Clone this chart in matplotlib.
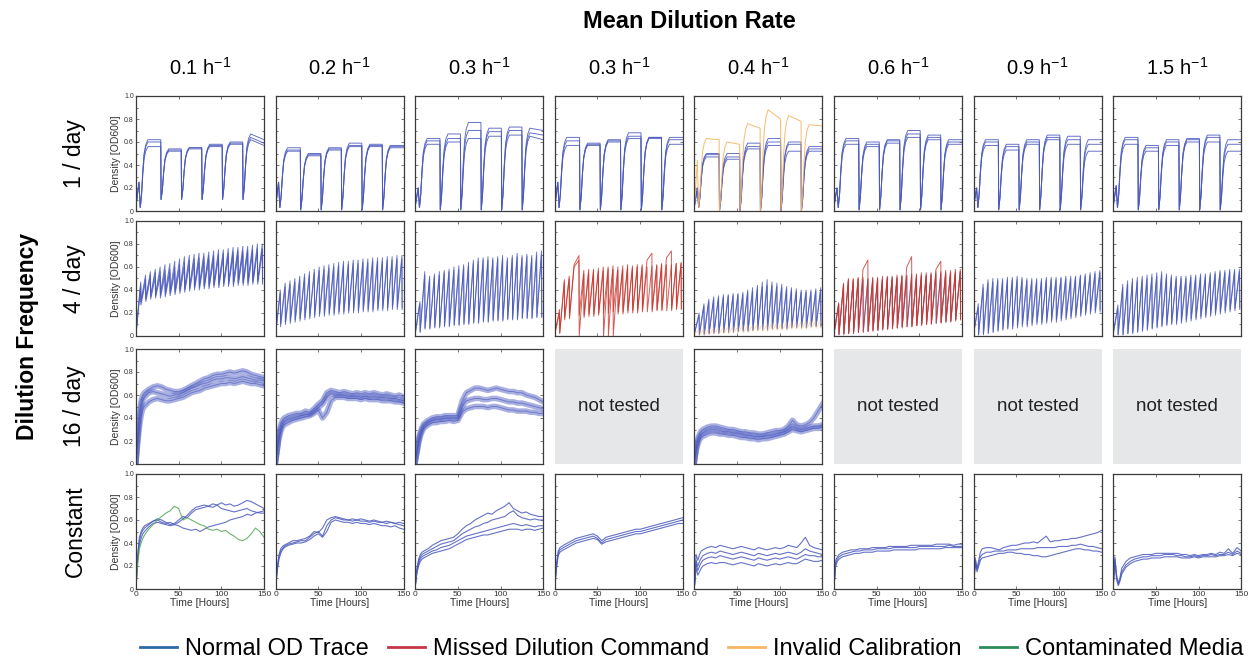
import matplotlib.pyplot as plt
from matplotlib.lines import Line2D
from matplotlib.ticker import MultipleLocator, FuncFormatter

plt.rcParams['font.family'] = ['Liberation Sans', 'DejaVu Sans']
plt.rcParams['mathtext.default'] = 'regular'

# ---------------------------------------------------------------- labels
rates = ['0.1', '0.2', '0.3', '0.3', '0.4', '0.6', '0.9', '1.5']
frequencies = ['1 / day', '4 / day', '16 / day', 'Constant']
legend_labels = ['Normal OD Trace', 'Missed Dilution Command',
                 'Invalid Calibration', 'Contaminated Media']

trace_color = {'n': '#4a59bd', 'm': '#c8352c', 'i': '#f6b35e', 'c': '#56a856'}
legend_color = ['#2d69a8', '#c53548', '#f7b766', '#2b8c57']

# ---------------------------------------------------------------- 1 / day
daily_dilutions = [29, 53, 77, 101, 125]
rise_hours = [0, 1.5, 3, 4.5, 6.5, 9]
rise_frac = [0, 0.2, 0.55, 0.8, 0.93, 1.0]

day_trough = [0.10, 0.01, 0.01, 0.01, 0.0, 0.01, 0.01, 0.01]
day_spike = [0.25, 0.25, 0.20, 0.25, 0.20, 0.20, 0.20, 0.22]

# plateau per cycle (6), optional 7th value = level at 150 h
day_c1 = [[0.62, 0.54, 0.55, 0.58, 0.60, 0.67, 0.62],
          [0.60, 0.53, 0.55, 0.57, 0.59, 0.64, 0.59],
          [0.56, 0.52, 0.54, 0.56, 0.58, 0.62, 0.57]]
day_c2 = [[0.55, 0.50, 0.55, 0.59, 0.58, 0.57],
          [0.53, 0.49, 0.54, 0.57, 0.57, 0.56],
          [0.52, 0.48, 0.53, 0.56, 0.56, 0.55]]
day_c3 = [[0.63, 0.67, 0.77, 0.72, 0.73, 0.72, 0.70],
          [0.61, 0.63, 0.70, 0.69, 0.70, 0.68, 0.66],
          [0.58, 0.60, 0.63, 0.65, 0.66, 0.65, 0.62]]
day_c4 = [[0.64, 0.59, 0.62, 0.68, 0.64, 0.64],
          [0.61, 0.58, 0.61, 0.65, 0.64, 0.62],
          [0.57, 0.57, 0.60, 0.63, 0.63, 0.58]]
day_c5 = [[0.50, 0.50, 0.59, 0.63, 0.60, 0.56],
          [0.49, 0.47, 0.56, 0.60, 0.58, 0.54],
          [0.47, 0.45, 0.54, 0.57, 0.52, 0.52]]
day_c6 = [[0.63, 0.60, 0.62, 0.70, 0.66, 0.62],
          [0.61, 0.58, 0.61, 0.67, 0.64, 0.60],
          [0.58, 0.56, 0.59, 0.64, 0.62, 0.58]]
day_c7 = [[0.62, 0.58, 0.62, 0.66, 0.65, 0.62],
          [0.60, 0.56, 0.60, 0.64, 0.62, 0.58],
          [0.57, 0.53, 0.58, 0.62, 0.58, 0.52]]
day_c8 = [[0.64, 0.57, 0.62, 0.63, 0.66, 0.62],
          [0.62, 0.55, 0.60, 0.62, 0.64, 0.58],
          [0.58, 0.52, 0.57, 0.60, 0.60, 0.52]]
day_panels = [day_c1, day_c2, day_c3, day_c4, day_c5, day_c6, day_c7, day_c8]

# invalid calibration reactor at 0.4 / h
orange_peak = [0.63, 0.60, 0.76, 0.88, 0.83, 0.75]
orange_end = [0.62, 0.58, 0.72, 0.80, 0.78, 0.74]
orange_spike = 0.44

# ---------------------------------------------------------------- 4 / day
dil_4day = [5.5, 11.2, 16.9, 22.6, 28.3, 34.0, 39.7, 45.4, 51.1, 56.8, 62.5, 68.2, 73.9,
            79.6, 85.3, 91.0, 96.7, 102.4, 108.1, 113.8, 119.5, 125.2, 130.9, 136.6, 142.3, 148.0]

four_c1_peaks = [
    [0.47, 0.53, 0.56, 0.58, 0.60, 0.62, 0.63, 0.65, 0.67, 0.69, 0.70, 0.71, 0.72,
     0.72, 0.73, 0.74, 0.75, 0.75, 0.76, 0.77, 0.77, 0.78, 0.78, 0.79, 0.80, 0.80],
    [0.45, 0.50, 0.53, 0.55, 0.56, 0.57, 0.58, 0.60, 0.62, 0.64, 0.66, 0.67, 0.68,
     0.69, 0.70, 0.70, 0.71, 0.72, 0.72, 0.73, 0.74, 0.74, 0.75, 0.75, 0.76, 0.76],
    [0.43, 0.47, 0.50, 0.51, 0.52, 0.53, 0.55, 0.56, 0.58, 0.60, 0.62, 0.63, 0.64,
     0.65, 0.66, 0.67, 0.68, 0.68, 0.69, 0.70, 0.70, 0.71, 0.72, 0.72, 0.73, 0.73]]
four_c1_lows = [
    [0.30, 0.33, 0.35, 0.36, 0.37, 0.38, 0.39, 0.40, 0.41, 0.42, 0.43, 0.43, 0.44,
     0.44, 0.45, 0.45, 0.46, 0.46, 0.46, 0.47, 0.47, 0.47, 0.48, 0.48, 0.48, 0.49],
    [0.29, 0.32, 0.34, 0.35, 0.35, 0.36, 0.37, 0.38, 0.39, 0.40, 0.41, 0.42, 0.42,
     0.43, 0.43, 0.44, 0.44, 0.45, 0.45, 0.45, 0.46, 0.46, 0.46, 0.47, 0.47, 0.47],
    [0.27, 0.30, 0.32, 0.33, 0.33, 0.34, 0.35, 0.36, 0.37, 0.38, 0.39, 0.40, 0.40,
     0.41, 0.41, 0.42, 0.42, 0.43, 0.43, 0.43, 0.44, 0.44, 0.44, 0.45, 0.45, 0.45]]

four_c2_peaks = [
    [0.40, 0.46, 0.48, 0.50, 0.52, 0.54, 0.56, 0.58, 0.60, 0.61, 0.62, 0.63, 0.64,
     0.65, 0.65, 0.66, 0.66, 0.67, 0.67, 0.68, 0.68, 0.68, 0.69, 0.69, 0.70, 0.70],
    [0.38, 0.43, 0.45, 0.47, 0.49, 0.51, 0.53, 0.55, 0.57, 0.58, 0.59, 0.60, 0.61,
     0.62, 0.62, 0.63, 0.63, 0.64, 0.64, 0.65, 0.65, 0.65, 0.66, 0.66, 0.67, 0.67]]
four_c2_lows = [
    [0.10, 0.12, 0.13, 0.14, 0.15, 0.16, 0.17, 0.18, 0.19, 0.19, 0.20, 0.20, 0.21,
     0.21, 0.22, 0.22, 0.22, 0.23, 0.23, 0.23, 0.24, 0.24, 0.24, 0.25, 0.25, 0.25],
    [0.08, 0.10, 0.11, 0.12, 0.13, 0.14, 0.15, 0.16, 0.17, 0.17, 0.18, 0.18, 0.19,
     0.19, 0.20, 0.20, 0.20, 0.21, 0.21, 0.21, 0.22, 0.22, 0.22, 0.23, 0.23, 0.23]]

four_c3_peaks = [
    [0.30, 0.56, 0.52, 0.54, 0.56, 0.57, 0.58, 0.60, 0.61, 0.62, 0.64, 0.66, 0.68,
     0.68, 0.69, 0.68, 0.69, 0.70, 0.68, 0.70, 0.72, 0.70, 0.71, 0.70, 0.73, 0.74],
    [0.28, 0.53, 0.50, 0.52, 0.53, 0.55, 0.56, 0.57, 0.58, 0.60, 0.61, 0.63, 0.65,
     0.66, 0.66, 0.66, 0.67, 0.67, 0.66, 0.68, 0.69, 0.68, 0.69, 0.68, 0.70, 0.71]]
four_c3_lows = [
    [0.04, 0.07, 0.07, 0.08, 0.08, 0.09, 0.09, 0.10, 0.10, 0.11, 0.11, 0.12, 0.12,
     0.13, 0.13, 0.14, 0.14, 0.14, 0.15, 0.15, 0.15, 0.16, 0.16, 0.16, 0.17, 0.17],
    [0.03, 0.06, 0.06, 0.07, 0.07, 0.08, 0.08, 0.09, 0.09, 0.10, 0.10, 0.11, 0.11,
     0.12, 0.12, 0.13, 0.13, 0.13, 0.14, 0.14, 0.14, 0.15, 0.15, 0.15, 0.16, 0.16]]

# None = dilution command missed
four_c4_peaks = [
    [0.23, 0.49, 0.52, 0.62, 0.70, 0.57, 0.58, 0.58, 0.59, 0.60, 0.60, 0.61, 0.60,
     0.61, 0.62, 0.61, 0.62, 0.62, 0.66, 0.72, 0.62, 0.63, 0.68, 0.74, 0.63, 0.64],
    [0.20, 0.47, 0.50, 0.60, 0.66, 0.54, 0.55, 0.56, 0.56, 0.57, 0.58, 0.58, 0.57,
     0.58, 0.59, 0.59, 0.60, 0.60, 0.60, 0.61, 0.61, 0.62, 0.62, 0.62, 0.63, 0.63]]
four_c4_lows = [
    [0.03, 0.16, 0.17, None, 0.18, 0.18, 0.19, 0.19, 0.20, 0.20, 0.20, 0.21, 0.21,
     0.21, 0.22, 0.22, 0.22, 0.23, None, 0.23, 0.23, 0.23, None, 0.24, 0.24, 0.24],
    [0.02, 0.14, 0.15, None, 0.00, 0.16, 0.17, 0.17, 0.18, 0.00, 0.00, 0.00, 0.19,
     0.19, 0.20, 0.20, 0.20, 0.21, 0.21, 0.21, 0.22, 0.22, 0.22, 0.22, 0.23, 0.23]]

four_c5_peaks = [
    [0.20, 0.28, 0.32, 0.34, 0.35, 0.36, 0.36, 0.37, 0.37, 0.38, 0.40, 0.42, 0.44,
     0.47, 0.49, 0.47, 0.46, 0.45, 0.43, 0.42, 0.41, 0.40, 0.40, 0.40, 0.41, 0.42],
    [0.18, 0.26, 0.30, 0.32, 0.33, 0.34, 0.35, 0.35, 0.36, 0.36, 0.38, 0.39, 0.41,
     0.43, 0.44, 0.44, 0.43, 0.42, 0.41, 0.40, 0.39, 0.38, 0.38, 0.38, 0.39, 0.40],
    [0.05, 0.06, 0.06, 0.07, 0.07, 0.07, 0.08, 0.08, 0.08, 0.09, 0.09, 0.09, 0.10,
     0.10, 0.10, 0.11, 0.11, 0.11, 0.12, 0.12, 0.12, 0.12, 0.13, 0.13, 0.13, 0.13]]
four_c5_lows = [
    [0.01, 0.02, 0.02, 0.03, 0.03, 0.03, 0.04, 0.04, 0.04, 0.05, 0.05, 0.05, 0.06,
     0.06, 0.06, 0.07, 0.07, 0.07, 0.07, 0.08, 0.08, 0.08, 0.08, 0.09, 0.09, 0.09],
    [0.01, 0.01, 0.02, 0.02, 0.02, 0.03, 0.03, 0.03, 0.04, 0.04, 0.04, 0.05, 0.05,
     0.05, 0.05, 0.06, 0.06, 0.06, 0.06, 0.07, 0.07, 0.07, 0.07, 0.08, 0.08, 0.08],
    [0.01, 0.01, 0.01, 0.02, 0.02, 0.02, 0.02, 0.03, 0.03, 0.03, 0.03, 0.04, 0.04,
     0.04, 0.04, 0.05, 0.05, 0.05, 0.05, 0.06, 0.06, 0.06, 0.06, 0.07, 0.07, 0.07]]

four_c6_peaks = [
    [0.28, 0.44, 0.48, 0.48, 0.49, 0.49, 0.49, 0.50, 0.50, 0.50, 0.51, 0.51, 0.51,
     0.52, 0.52, 0.52, 0.53, 0.53, 0.53, 0.54, 0.54, 0.54, 0.55, 0.55, 0.56, 0.56],
    [0.27, 0.46, 0.50, 0.50, 0.51, 0.51, 0.50, 0.51, 0.51, 0.52, 0.52, 0.52, 0.53,
     0.53, 0.53, 0.54, 0.54, 0.55, 0.55, 0.55, 0.56, 0.56, 0.57, 0.57, 0.58, 0.58],
    [0.29, 0.45, 0.49, 0.49, 0.50, 0.58, 0.66, 0.48, 0.49, 0.49, 0.50, 0.50, 0.50,
     0.51, 0.60, 0.69, 0.51, 0.52, 0.52, 0.53, 0.58, 0.65, 0.54, 0.55, 0.55, 0.56]]
four_c6_lows = [
    [0.01, 0.02, 0.02, 0.03, 0.03, 0.04, 0.04, 0.05, 0.05, 0.06, 0.06, 0.07, 0.07,
     0.08, 0.08, 0.09, 0.09, 0.10, 0.10, 0.11, 0.11, 0.12, 0.12, 0.13, 0.14, 0.15],
    [0.01, 0.01, 0.02, 0.02, 0.03, 0.03, 0.04, 0.04, 0.05, 0.05, 0.06, 0.06, 0.07,
     0.07, 0.08, 0.08, 0.09, 0.09, 0.10, 0.10, 0.11, 0.11, 0.12, 0.12, 0.13, 0.14],
    [0.02, 0.02, 0.03, 0.03, 0.04, None, 0.04, 0.05, 0.05, 0.06, 0.06, 0.07, 0.07,
     0.08, None, 0.08, 0.09, 0.10, 0.10, 0.11, None, 0.12, 0.13, 0.13, 0.14, 0.15]]

four_c7_peaks = [
    [0.28, 0.45, 0.49, 0.50, 0.50, 0.50, 0.51, 0.51, 0.52, 0.51, 0.50, 0.50, 0.50,
     0.50, 0.51, 0.51, 0.51, 0.51, 0.52, 0.52, 0.52, 0.53, 0.54, 0.55, 0.56, 0.57],
    [0.25, 0.42, 0.46, 0.47, 0.48, 0.48, 0.49, 0.49, 0.49, 0.49, 0.48, 0.48, 0.48,
     0.48, 0.49, 0.49, 0.49, 0.50, 0.50, 0.50, 0.51, 0.52, 0.52, 0.53, 0.54, 0.55]]
four_c7_lows = [
    [0.01, 0.02, 0.03, 0.04, 0.05, 0.06, 0.07, 0.08, 0.09, 0.10, 0.10, 0.11, 0.12,
     0.12, 0.13, 0.14, 0.14, 0.15, 0.16, 0.17, 0.18, 0.19, 0.20, 0.21, 0.22, 0.23],
    [0.01, 0.01, 0.02, 0.03, 0.04, 0.05, 0.06, 0.06, 0.07, 0.08, 0.08, 0.09, 0.10,
     0.10, 0.11, 0.12, 0.12, 0.13, 0.14, 0.15, 0.16, 0.17, 0.18, 0.19, 0.20, 0.21]]

four_c8_peaks = [
    [0.27, 0.45, 0.48, 0.50, 0.51, 0.52, 0.53, 0.54, 0.55, 0.56, 0.54, 0.53, 0.52,
     0.52, 0.52, 0.53, 0.53, 0.54, 0.54, 0.55, 0.56, 0.57, 0.57, 0.58, 0.58, 0.58],
    [0.24, 0.42, 0.45, 0.47, 0.48, 0.49, 0.50, 0.51, 0.52, 0.53, 0.52, 0.51, 0.50,
     0.50, 0.50, 0.51, 0.51, 0.52, 0.52, 0.53, 0.54, 0.55, 0.55, 0.56, 0.56, 0.56]]
four_c8_lows = [
    [0.01, 0.01, 0.02, 0.03, 0.04, 0.05, 0.06, 0.07, 0.08, 0.09, 0.10, 0.11, 0.12,
     0.13, 0.14, 0.15, 0.16, 0.17, 0.18, 0.19, 0.20, 0.21, 0.22, 0.23, 0.24, 0.25],
    [0.01, 0.01, 0.02, 0.02, 0.03, 0.04, 0.05, 0.06, 0.07, 0.08, 0.09, 0.10, 0.10,
     0.11, 0.12, 0.13, 0.14, 0.15, 0.16, 0.17, 0.18, 0.19, 0.20, 0.21, 0.22, 0.23]]

four_peaks = [four_c1_peaks, four_c2_peaks, four_c3_peaks, four_c4_peaks,
              four_c5_peaks, four_c6_peaks, four_c7_peaks, four_c8_peaks]
four_lows = [four_c1_lows, four_c2_lows, four_c3_lows, four_c4_lows,
             four_c5_lows, four_c6_lows, four_c7_lows, four_c8_lows]
four_kinds = [['n', 'n', 'n'], ['n', 'n'], ['n', 'n'], ['m', 'm'],
              ['n', 'n', 'i'], ['n', 'm', 'm'], ['n', 'n'], ['n', 'n']]

# ---------------------------------------------------------------- 16 / day and constant
t_grid = [0, 2, 4, 6, 8, 10,
          15, 20, 25, 30, 35, 40, 45, 50, 55, 60, 65, 70, 75, 80,
          85, 90, 95, 100, 105, 110, 115, 120, 125, 130, 135, 140, 145, 150]

six_c1 = [
    [0.02, 0.25, 0.45, 0.55, 0.60, 0.62,
     0.65, 0.67, 0.68, 0.67, 0.65, 0.64, 0.63, 0.63, 0.64, 0.66, 0.68, 0.70, 0.72, 0.74,
     0.75, 0.77, 0.78, 0.78, 0.79, 0.80, 0.79, 0.80, 0.81, 0.80, 0.78, 0.77, 0.76, 0.75],
    [0.02, 0.22, 0.40, 0.50, 0.56, 0.58,
     0.62, 0.63, 0.62, 0.61, 0.60, 0.59, 0.60, 0.60, 0.62, 0.64, 0.66, 0.67, 0.69, 0.70,
     0.71, 0.73, 0.74, 0.74, 0.75, 0.75, 0.74, 0.75, 0.76, 0.75, 0.74, 0.73, 0.73, 0.72],
    [0.02, 0.18, 0.32, 0.42, 0.48, 0.50,
     0.54, 0.56, 0.57, 0.56, 0.55, 0.55, 0.56, 0.57, 0.58, 0.60, 0.62, 0.63, 0.64, 0.66,
     0.67, 0.68, 0.69, 0.70, 0.70, 0.71, 0.70, 0.71, 0.72, 0.71, 0.70, 0.70, 0.69, 0.68]]
six_c2 = [
    [0.02, 0.15, 0.28, 0.34, 0.38, 0.40,
     0.42, 0.43, 0.44, 0.44, 0.46, 0.45, 0.48, 0.52, 0.55, 0.62, 0.64, 0.63, 0.62, 0.63,
     0.62, 0.61, 0.62, 0.61, 0.62, 0.61, 0.62, 0.61, 0.60, 0.61, 0.60, 0.59, 0.60, 0.58],
    [0.02, 0.13, 0.25, 0.31, 0.35, 0.37,
     0.39, 0.40, 0.41, 0.42, 0.43, 0.43, 0.46, 0.49, 0.52, 0.58, 0.61, 0.60, 0.60, 0.60,
     0.59, 0.59, 0.59, 0.58, 0.59, 0.58, 0.59, 0.58, 0.58, 0.58, 0.57, 0.57, 0.56, 0.55],
    [0.02, 0.12, 0.22, 0.28, 0.32, 0.34,
     0.36, 0.38, 0.39, 0.40, 0.41, 0.42, 0.44, 0.47, 0.40, 0.45, 0.55, 0.58, 0.58, 0.58,
     0.57, 0.57, 0.57, 0.56, 0.57, 0.56, 0.56, 0.56, 0.55, 0.55, 0.55, 0.54, 0.54, 0.53]]
six_c3 = [
    [0.02, 0.12, 0.22, 0.28, 0.32, 0.35,
     0.38, 0.40, 0.41, 0.41, 0.42, 0.42, 0.42, 0.42, 0.55, 0.62, 0.64, 0.66, 0.66, 0.65,
     0.64, 0.65, 0.66, 0.65, 0.64, 0.63, 0.63, 0.62, 0.62, 0.60, 0.59, 0.58, 0.56, 0.54],
    [0.02, 0.10, 0.20, 0.26, 0.30, 0.33,
     0.36, 0.38, 0.39, 0.39, 0.40, 0.40, 0.40, 0.40, 0.50, 0.55, 0.56, 0.57, 0.57, 0.56,
     0.56, 0.57, 0.57, 0.56, 0.55, 0.54, 0.54, 0.53, 0.53, 0.52, 0.51, 0.50, 0.49, 0.48],
    [0.02, 0.10, 0.18, 0.24, 0.28, 0.31,
     0.34, 0.36, 0.36, 0.37, 0.37, 0.38, 0.37, 0.38, 0.45, 0.48, 0.49, 0.50, 0.50, 0.50,
     0.49, 0.50, 0.50, 0.49, 0.48, 0.47, 0.47, 0.46, 0.46, 0.46, 0.45, 0.45, 0.44, 0.44]]
six_c5 = [
    [0.02, 0.15, 0.22, 0.26, 0.29, 0.30,
     0.32, 0.33, 0.33, 0.32, 0.31, 0.30, 0.30, 0.29, 0.28, 0.28, 0.27, 0.27, 0.26, 0.26,
     0.27, 0.28, 0.29, 0.29, 0.30, 0.33, 0.38, 0.34, 0.33, 0.34, 0.36, 0.40, 0.46, 0.52],
    [0.02, 0.13, 0.20, 0.24, 0.26, 0.27,
     0.29, 0.30, 0.30, 0.29, 0.28, 0.28, 0.27, 0.27, 0.26, 0.25, 0.25, 0.24, 0.24, 0.24,
     0.25, 0.25, 0.26, 0.27, 0.28, 0.30, 0.33, 0.31, 0.30, 0.31, 0.32, 0.33, 0.33, 0.34],
    [0.02, 0.11, 0.17, 0.21, 0.23, 0.24,
     0.26, 0.27, 0.27, 0.26, 0.26, 0.25, 0.25, 0.24, 0.23, 0.23, 0.22, 0.22, 0.21, 0.22,
     0.22, 0.23, 0.24, 0.25, 0.26, 0.28, 0.30, 0.29, 0.28, 0.29, 0.30, 0.31, 0.31, 0.32]]
sixteen_panels = [six_c1, six_c2, six_c3, None, six_c5, None, None, None]

const_c1 = [
    [0.02, 0.30, 0.45, 0.50, 0.53, 0.55,
     0.57, 0.59, 0.60, 0.58, 0.57, 0.58, 0.56, 0.58, 0.61, 0.64, 0.68, 0.71, 0.72, 0.73,
     0.72, 0.74, 0.73, 0.75, 0.73, 0.74, 0.72, 0.73, 0.75, 0.77, 0.76, 0.74, 0.72, 0.70],
    [0.02, 0.28, 0.42, 0.48, 0.51, 0.53,
     0.56, 0.59, 0.61, 0.60, 0.58, 0.56, 0.57, 0.60, 0.63, 0.62, 0.66, 0.69, 0.70, 0.71,
     0.72, 0.71, 0.73, 0.70, 0.69, 0.68, 0.67, 0.68, 0.69, 0.70, 0.68, 0.67, 0.66, 0.66],
    [0.02, 0.25, 0.38, 0.44, 0.48, 0.50,
     0.54, 0.57, 0.58, 0.57, 0.56, 0.55, 0.56, 0.55, 0.53, 0.52, 0.51, 0.52, 0.50, 0.52,
     0.54, 0.55, 0.56, 0.57, 0.58, 0.60, 0.61, 0.62, 0.63, 0.65, 0.64, 0.66, 0.67, 0.68],
    [0.02, 0.22, 0.35, 0.40, 0.44, 0.47,
     0.52, 0.56, 0.60, 0.63, 0.66, 0.68, 0.72, 0.70, 0.60, 0.62, 0.60, 0.58, 0.56, 0.55,
     0.52, 0.51, 0.52, 0.50, 0.51, 0.48, 0.46, 0.43, 0.42, 0.44, 0.48, 0.53, 0.50, 0.45]]
const_c2 = [
    [0.02, 0.20, 0.30, 0.35, 0.37, 0.38,
     0.40, 0.42, 0.42, 0.43, 0.44, 0.46, 0.50, 0.49, 0.53, 0.60, 0.62, 0.63, 0.62, 0.61,
     0.60, 0.61, 0.60, 0.61, 0.60, 0.59, 0.60, 0.59, 0.58, 0.59, 0.58, 0.57, 0.58, 0.57],
    [0.02, 0.18, 0.28, 0.33, 0.35, 0.37,
     0.39, 0.40, 0.41, 0.42, 0.42, 0.45, 0.48, 0.50, 0.46, 0.55, 0.60, 0.62, 0.61, 0.60,
     0.60, 0.59, 0.60, 0.59, 0.59, 0.58, 0.59, 0.58, 0.58, 0.57, 0.58, 0.57, 0.56, 0.55],
    [0.02, 0.16, 0.26, 0.31, 0.34, 0.36,
     0.38, 0.39, 0.40, 0.40, 0.41, 0.43, 0.46, 0.48, 0.45, 0.50, 0.58, 0.60, 0.59, 0.58,
     0.58, 0.57, 0.58, 0.57, 0.57, 0.56, 0.57, 0.56, 0.55, 0.55, 0.54, 0.55, 0.53, 0.52]]
const_c3 = [
    [0.02, 0.18, 0.26, 0.30, 0.32, 0.33,
     0.35, 0.38, 0.40, 0.42, 0.43, 0.44, 0.45, 0.48, 0.52, 0.55, 0.57, 0.60, 0.62, 0.64,
     0.66, 0.65, 0.68, 0.70, 0.72, 0.75, 0.70, 0.68, 0.66, 0.67, 0.65, 0.64, 0.63, 0.63],
    [0.02, 0.16, 0.24, 0.28, 0.30, 0.31,
     0.33, 0.35, 0.37, 0.39, 0.40, 0.41, 0.42, 0.45, 0.48, 0.50, 0.52, 0.54, 0.55, 0.57,
     0.58, 0.60, 0.61, 0.62, 0.63, 0.66, 0.68, 0.64, 0.62, 0.61, 0.60, 0.61, 0.60, 0.60],
    [0.02, 0.15, 0.22, 0.26, 0.28, 0.29,
     0.31, 0.33, 0.34, 0.36, 0.37, 0.38, 0.40, 0.42, 0.44, 0.46, 0.47, 0.48, 0.49, 0.50,
     0.51, 0.52, 0.53, 0.54, 0.55, 0.56, 0.57, 0.56, 0.55, 0.56, 0.55, 0.54, 0.55, 0.55],
    [0.02, 0.14, 0.20, 0.24, 0.26, 0.27,
     0.29, 0.31, 0.32, 0.33, 0.34, 0.35, 0.37, 0.39, 0.41, 0.43, 0.44, 0.45, 0.46, 0.47,
     0.47, 0.48, 0.49, 0.50, 0.51, 0.52, 0.52, 0.52, 0.51, 0.52, 0.52, 0.51, 0.52, 0.53]]
const_c4 = [
    [0.02, 0.22, 0.33, 0.36, 0.37, 0.38,
     0.40, 0.42, 0.44, 0.45, 0.46, 0.47, 0.48, 0.46, 0.42, 0.45, 0.46, 0.47, 0.48, 0.49,
     0.50, 0.51, 0.52, 0.52, 0.53, 0.54, 0.55, 0.56, 0.57, 0.58, 0.59, 0.60, 0.61, 0.62],
    [0.02, 0.20, 0.31, 0.34, 0.35, 0.36,
     0.38, 0.40, 0.42, 0.43, 0.44, 0.45, 0.46, 0.44, 0.40, 0.43, 0.44, 0.45, 0.46, 0.47,
     0.48, 0.49, 0.50, 0.50, 0.51, 0.52, 0.53, 0.54, 0.55, 0.56, 0.57, 0.58, 0.59, 0.60],
    [0.02, 0.18, 0.29, 0.32, 0.33, 0.34,
     0.36, 0.38, 0.40, 0.41, 0.42, 0.43, 0.44, 0.43, 0.39, 0.41, 0.42, 0.43, 0.44, 0.45,
     0.46, 0.47, 0.48, 0.48, 0.49, 0.50, 0.51, 0.52, 0.53, 0.54, 0.55, 0.56, 0.57, 0.57]]
const_c5 = [
    [0.02, 0.30, 0.25, 0.30, 0.33, 0.34,
     0.36, 0.37, 0.36, 0.38, 0.37, 0.36, 0.35, 0.36, 0.37, 0.36, 0.35, 0.34, 0.36, 0.35,
     0.34, 0.35, 0.36, 0.35, 0.36, 0.38, 0.37, 0.36, 0.40, 0.45, 0.38, 0.36, 0.35, 0.34],
    [0.02, 0.25, 0.20, 0.24, 0.27, 0.29,
     0.31, 0.32, 0.31, 0.33, 0.32, 0.31, 0.30, 0.31, 0.32, 0.31, 0.30, 0.29, 0.31, 0.30,
     0.29, 0.30, 0.31, 0.30, 0.31, 0.32, 0.31, 0.30, 0.32, 0.35, 0.33, 0.32, 0.31, 0.30],
    [0.02, 0.22, 0.16, 0.20, 0.23, 0.25,
     0.27, 0.28, 0.27, 0.29, 0.28, 0.27, 0.26, 0.27, 0.28, 0.27, 0.26, 0.25, 0.27, 0.26,
     0.25, 0.26, 0.27, 0.26, 0.27, 0.28, 0.27, 0.26, 0.28, 0.30, 0.29, 0.29, 0.28, 0.28],
    [0.02, 0.18, 0.12, 0.15, 0.18, 0.20,
     0.22, 0.23, 0.22, 0.23, 0.23, 0.22, 0.21, 0.22, 0.23, 0.22, 0.21, 0.20, 0.22, 0.21,
     0.20, 0.21, 0.22, 0.21, 0.22, 0.23, 0.22, 0.22, 0.24, 0.26, 0.25, 0.24, 0.24, 0.25]]
const_c6 = [
    [0.02, 0.25, 0.28, 0.30, 0.31, 0.32,
     0.33, 0.34, 0.34, 0.35, 0.35, 0.35, 0.36, 0.36, 0.36, 0.36, 0.37, 0.37, 0.37, 0.37,
     0.37, 0.38, 0.38, 0.38, 0.38, 0.38, 0.38, 0.39, 0.39, 0.39, 0.39, 0.38, 0.39, 0.39],
    [0.02, 0.22, 0.26, 0.28, 0.29, 0.30,
     0.31, 0.32, 0.33, 0.33, 0.34, 0.34, 0.34, 0.35, 0.35, 0.35, 0.35, 0.36, 0.36, 0.36,
     0.36, 0.36, 0.36, 0.37, 0.37, 0.37, 0.37, 0.37, 0.37, 0.37, 0.38, 0.37, 0.37, 0.37],
    [0.02, 0.20, 0.24, 0.26, 0.27, 0.28,
     0.29, 0.30, 0.31, 0.31, 0.32, 0.32, 0.32, 0.33, 0.33, 0.33, 0.33, 0.34, 0.34, 0.34,
     0.34, 0.34, 0.34, 0.35, 0.35, 0.35, 0.35, 0.35, 0.35, 0.36, 0.36, 0.36, 0.36, 0.36]]
const_c7 = [
    [0.02, 0.27, 0.18, 0.25, 0.32, 0.35,
     0.36, 0.36, 0.35, 0.34, 0.36, 0.37, 0.38, 0.38, 0.39, 0.40, 0.40, 0.41, 0.40, 0.43,
     0.46, 0.41, 0.42, 0.42, 0.43, 0.43, 0.44, 0.44, 0.45, 0.46, 0.47, 0.48, 0.49, 0.51],
    [0.02, 0.25, 0.17, 0.22, 0.28, 0.30,
     0.32, 0.32, 0.33, 0.33, 0.33, 0.34, 0.34, 0.34, 0.35, 0.35, 0.35, 0.35, 0.36, 0.36,
     0.36, 0.36, 0.36, 0.37, 0.37, 0.37, 0.38, 0.38, 0.39, 0.38, 0.37, 0.37, 0.36, 0.35],
    [0.02, 0.22, 0.15, 0.20, 0.25, 0.27,
     0.28, 0.29, 0.30, 0.31, 0.31, 0.32, 0.32, 0.31, 0.31, 0.30, 0.30, 0.29, 0.29, 0.28,
     0.28, 0.29, 0.30, 0.31, 0.32, 0.33, 0.34, 0.35, 0.35, 0.34, 0.34, 0.33, 0.33, 0.32]]
const_c8 = [
    [0.02, 0.28, 0.12, 0.05, 0.10, 0.18,
     0.24, 0.27, 0.28, 0.29, 0.30, 0.30, 0.30, 0.31, 0.31, 0.31, 0.31, 0.31, 0.31, 0.30,
     0.30, 0.29, 0.30, 0.29, 0.30, 0.30, 0.31, 0.30, 0.32, 0.31, 0.35, 0.31, 0.36, 0.33],
    [0.02, 0.26, 0.10, 0.04, 0.08, 0.15,
     0.21, 0.24, 0.26, 0.27, 0.28, 0.28, 0.29, 0.29, 0.29, 0.30, 0.30, 0.30, 0.29, 0.29,
     0.28, 0.28, 0.29, 0.28, 0.29, 0.29, 0.30, 0.29, 0.30, 0.30, 0.32, 0.30, 0.33, 0.31],
    [0.02, 0.24, 0.08, 0.03, 0.07, 0.13,
     0.19, 0.22, 0.24, 0.25, 0.26, 0.26, 0.27, 0.27, 0.27, 0.28, 0.28, 0.28, 0.28, 0.27,
     0.27, 0.27, 0.28, 0.27, 0.28, 0.28, 0.28, 0.28, 0.29, 0.29, 0.30, 0.29, 0.31, 0.30]]
const_panels = [const_c1, const_c2, const_c3, const_c4,
                const_c5, const_c6, const_c7, const_c8]
const_kinds = [['n', 'n', 'n', 'c']] + [None] * 7


# ---------------------------------------------------------------- helpers
def daily_xy(levels, trough, spike, ends=None):
    plat = levels[:6]
    if ends is None:
        ends = list(plat)
        if len(levels) > 6:
            ends[5] = levels[6]
    xs, ys = [0, 3.5, 5.0], [0.04, spike, 0.03]
    starts = [5.0] + [t + 0.4 for t in daily_dilutions]
    lows = [0.03] + [trough] * 5
    stops = daily_dilutions + [150]
    for k in range(6):
        for h, f in zip(rise_hours, rise_frac):
            xs.append(starts[k] + h)
            ys.append(lows[k] + f * (plat[k] - lows[k]))
        xs.append(stops[k])
        ys.append(ends[k])
    return xs, ys


def saw_xy(peaks, lows):
    xs, ys = [0], [0.02]
    for t, p, lo in zip(dil_4day, peaks, lows):
        xs.append(t)
        ys.append(p)
        if lo is not None:
            xs.append(t + 0.3)
            ys.append(lo)
    return xs, ys


W, H = 1256, 660
fig = plt.figure(figsize=(W / 100, H / 100), dpi=100)
row_tops = [96, 221, 349, 474]
ax_w, ax_h = 128, 115


def col_left(c):
    return 136 + 139.6 * c


def make_axes(r, c):
    return fig.add_axes([col_left(c) / W, 1 - (row_tops[r] + ax_h) / H, ax_w / W, ax_h / H])


def style(ax, r, c):
    ax.set_xlim(0, 150)
    ax.set_ylim(0, 1)
    ax.xaxis.set_major_locator(MultipleLocator(50))
    ax.yaxis.set_major_locator(MultipleLocator(0.2))
    ax.yaxis.set_minor_locator(MultipleLocator(0.1))
    ax.yaxis.set_major_formatter(FuncFormatter(lambda v, _: '0' if v == 0 else f'{v:.1f}'))
    ax.tick_params(which='both', direction='in', top=True, right=True, width=0.5,
                   colors='#444444', labelcolor='#333333', pad=1.5)
    ax.tick_params(which='major', length=2.5)
    ax.tick_params(which='minor', length=1.5)
    ax.tick_params(axis='y', labelsize=5)
    ax.tick_params(axis='x', labelsize=6)
    for s in ax.spines.values():
        s.set_color('#3a3a3a')
        s.set_linewidth(0.9)
    if c == 0:
        ax.set_ylabel('Density [OD600]', fontsize=7.5, labelpad=2, color='#333333')
    else:
        ax.tick_params(labelleft=False)
    if r == 3:
        ax.set_xlabel('Time [Hours]', fontsize=7.5, labelpad=0, color='#333333')
    else:
        ax.tick_params(labelbottom=False)


# ---------------------------------------------------------------- draw grid
for c in range(8):
    # 1 / day
    ax = make_axes(0, c)
    for lv in day_panels[c]:
        xs, ys = daily_xy(lv, day_trough[c], day_spike[c])
        ax.plot(xs, ys, color=trace_color['n'], lw=0.7, alpha=0.85)
    if c == 4:
        xs, ys = daily_xy(orange_peak, 0.0, orange_spike, ends=orange_end)
        ax.plot(xs, ys, color=trace_color['i'], lw=0.7, alpha=0.9)
    style(ax, 0, c)

    # 4 / day
    ax = make_axes(1, c)
    for pk, lo, kind in zip(four_peaks[c], four_lows[c], four_kinds[c]):
        xs, ys = saw_xy(pk, lo)
        ax.plot(xs, ys, color=trace_color[kind], lw=0.7,
                alpha=0.45 if kind == 'i' else 0.8)
    style(ax, 1, c)

    # 16 / day
    ax = make_axes(2, c)
    if sixteen_panels[c] is None:
        ax.set_facecolor('#e6e7e8')
        for s in ax.spines.values():
            s.set_visible(False)
        ax.set_xticks([])
        ax.set_yticks([])
        ax.text(0.5, 0.5, 'not tested', transform=ax.transAxes, ha='center',
                va='center', fontsize=13.5, color='#222222')
    else:
        for ys in sixteen_panels[c]:
            ax.plot(t_grid, ys, color='#5563c4', lw=4.0, alpha=0.5,
                    solid_joinstyle='round')
            ax.plot(t_grid, ys, color='#3f4fb5', lw=0.7, alpha=0.55)
        style(ax, 2, c)

    # constant
    ax = make_axes(3, c)
    kinds = const_kinds[c] or ['n'] * len(const_panels[c])
    for ys, kind in zip(const_panels[c], kinds):
        ax.plot(t_grid, ys, color=trace_color[kind], lw=0.8, alpha=0.85)
    style(ax, 3, c)

# ---------------------------------------------------------------- text
fig.text(689 / W, 1 - 22 / H, 'Mean Dilution Rate', ha='center', va='center',
         fontsize=17, fontweight='bold')
for c, rate in enumerate(rates):
    fig.text((col_left(c) + ax_w / 2) / W, 1 - 68 / H, rate + ' h$^{-1}$',
             ha='center', va='center', fontsize=14.5)
fig.text(28 / W, 1 - 336 / H, 'Dilution Frequency', rotation=90, ha='center',
         va='center', fontsize=16.5, fontweight='bold')
for r, lab in enumerate(frequencies):
    fig.text(75 / W, 1 - (row_tops[r] + ax_h / 2) / H, lab, rotation=90,
             ha='center', va='center', fontsize=16.5)

handles = [Line2D([], [], color=col, lw=2) for col in legend_color]
fig.legend(handles, legend_labels, loc='center', bbox_to_anchor=(692 / W, 1 - 649 / H),
           ncol=4, frameon=False, fontsize=17, handlelength=1.55, handletextpad=0.35,
           columnspacing=0.8, borderaxespad=0)

fig.savefig('out.png', dpi=100)
